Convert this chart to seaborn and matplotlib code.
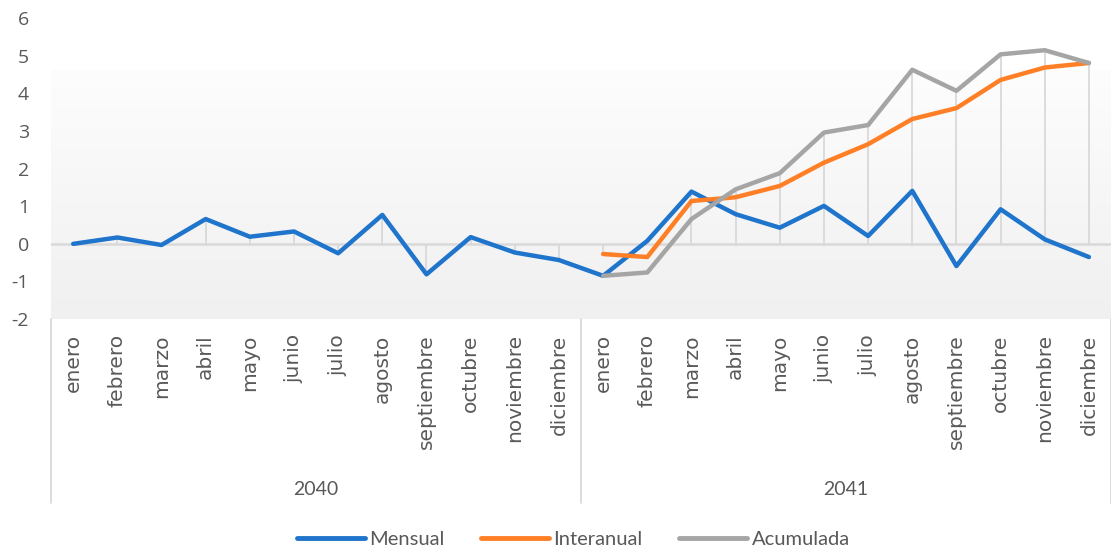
import numpy as np
import pandas as pd
import matplotlib
matplotlib.use("Agg")
import matplotlib.pyplot as plt
import matplotlib.transforms as mtransforms
from matplotlib.colors import LinearSegmentedColormap
import seaborn as sns

months = ["enero", "febrero", "marzo", "abril", "mayo", "junio", "julio",
          "agosto", "septiembre", "octubre", "noviembre", "diciembre"]
years = ["2040", "2041"]

mensual = [0.00, 0.17, -0.03, 0.66, 0.19, 0.33, -0.25, 0.77, -0.81, 0.18, -0.23, -0.43,
           -0.85, 0.08, 1.39, 0.79, 0.43, 1.01, 0.21, 1.41, -0.59, 0.92, 0.12, -0.35]
interanual = [np.nan] * 12 + [-0.27, -0.35, 1.14, 1.24, 1.54, 2.16, 2.65, 3.32, 3.61, 4.36, 4.69, 4.81]
acumulada = [np.nan] * 12 + [-0.85, -0.76, 0.66, 1.45, 1.88, 2.96, 3.16, 4.63, 4.07, 5.04, 5.15, 4.81]

series_names = ["Mensual", "Interanual", "Acumulada"]
colors = ["#1f74cc", "#ff7f27", "#a5a5a5"]
text_color = "#595959"

def build_frame():
    idx = np.arange(len(mensual))
    parts = []
    for name, vals in zip(series_names, [mensual, interanual, acumulada]):
        parts.append(pd.DataFrame({"pos": idx, "valor": vals, "serie": name}))
    return pd.concat(parts, ignore_index=True)

def plot_chart(df):
    sns.set_style("white")
    plt.rcParams["font.family"] = ["Open Sans", "DejaVu Sans"]
    plt.rcParams["axes.unicode_minus"] = False
    fig = plt.figure(figsize=(11.11, 5.53), dpi=100)
    ax = fig.add_axes([0.046, 0.423, 0.954, 0.544])
    n = len(mensual)

    # background gradient like the Excel plot area
    cmap = LinearSegmentedColormap.from_list("bg", ["#f0f0f0", "#fdfdfd"])
    grad = np.linspace(0, 1, 256).reshape(-1, 1)
    ax.imshow(grad, extent=[-0.5, n - 0.5, -2, 4.6], aspect="auto", cmap=cmap,
              origin="lower", zorder=0)

    # zero line and drop lines
    ax.axhline(0, color="#d9d9d9", lw=1.8, zorder=1)
    tops = df.groupby("pos")["valor"].max()
    ax.vlines(tops.index, 0, tops.values, color="#d9d9d9", lw=1.3, zorder=1)

    sns.lineplot(data=df, x="pos", y="valor", hue="serie", hue_order=series_names,
                 palette=colors, lw=3.2, ax=ax, legend=False, zorder=3)

    ax.set_xlim(-0.5, n - 0.5)
    ax.set_ylim(-2, 6)
    ax.set_yticks(range(-2, 7))
    ax.set_xticks(range(n))
    ax.set_xticklabels(months * 2, rotation=90, va="top", ha="center",
                       family="DejaVu Sans", fontsize=14.5)
    ax.tick_params(axis="x", length=0, pad=11, colors=text_color)
    ax.tick_params(axis="y", length=0, pad=16, labelsize=14, colors=text_color)
    ax.set_xlabel("")
    ax.set_ylabel("")
    for s in ax.spines.values():
        s.set_visible(False)

    # multi-level category axis
    trans = mtransforms.blended_transform_factory(ax.transData, ax.transAxes)
    for xs in [-0.5, 11.5, n - 0.5]:
        ax.plot([xs, xs], [0, -0.61], color="#d9d9d9", lw=1.3, transform=trans, clip_on=False)
    for i, yr in enumerate(years):
        ax.text(5.5 + 12 * i, -0.568, yr, transform=trans, ha="center", va="center",
                fontsize=14, color=text_color, family="Lato")

    handles = [plt.Line2D([], [], color=c, lw=3.5) for c in colors]
    fig.legend(handles, series_names, loc="center", bbox_to_anchor=(0.516, 0.024), ncol=3,
               frameon=False, handlelength=3.4, handletextpad=0.2, columnspacing=1.8,
               prop={"family": "Lato", "size": 14.5}, labelcolor=text_color)

    fig.savefig("out.png", dpi=100)

if __name__ == "__main__":
    plot_chart(build_frame())
